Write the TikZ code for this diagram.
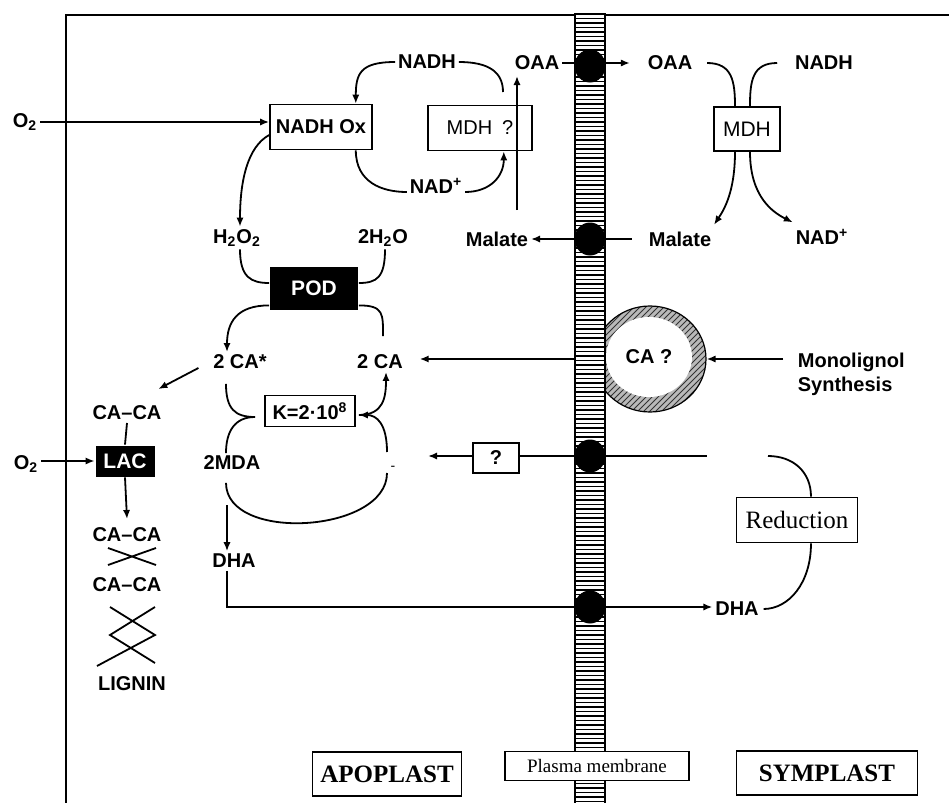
\documentclass[tikz,border=0pt]{standalone}
\usepackage{fontspec}
\setmainfont{Liberation Sans}
\newfontfamily\tnr{Liberation Serif}
\usetikzlibrary{arrows.meta,shapes.geometric,patterns}

\begin{document}
\begin{tikzpicture}[
  x=0.5pt, y=-0.5pt,
  line width=0.9pt,
  every node/.style={font=\fontsize{10}{11}\selectfont\bfseries, inner sep=1pt},
  arr/.style={-{Latex[length=4.5pt,width=3.6pt]}},
  enzbox/.style={draw, fill=white, line width=0.8pt, inner sep=0pt},
  enzblack/.style={fill=black, text=white, inner sep=0pt, font=\fontsize{10.5}{11}\selectfont\bfseries},
  carrier/.style={ellipse, fill=black, minimum width=15.5pt, minimum height=16.5pt, inner sep=0pt},
  areabox/.style={draw, fill=white, line width=0.8pt, inner sep=0pt, font=\tnr\bfseries\fontsize{12.5}{14}\selectfont},
  membranebar/.style={draw, fill=white, line width=0.6pt, minimum width=15pt, minimum height=395pt, inner sep=0pt,
    path picture={
      \foreach \k in {1,...,176}
        \draw[line width=0.9pt] ([yshift=-\k*2.25pt]path picture bounding box.north west) -- ++(20pt,0);
    }}
]
\useasboundingbox (0,0) rectangle (949,803);
\fill[white] (0,0) rectangle (949,803);
\draw (66,803) -- (66,15) -- (949,15);

% vesicle and membrane
\node[ellipse, draw, line width=0.6pt, preaction={fill=gray!55}, pattern=north east lines, pattern color=black!80,
  minimum width=56pt, minimum height=53pt] (vesicle) at (650,359) {};
\node[ellipse, fill=white, minimum width=43pt, minimum height=40pt, inner sep=0pt,
  font=\fontsize{10}{11}\selectfont\bfseries] (castub) at (649,357) {CA ?};
\node[membranebar] (membrane) at (590,409) {};
\node[carrier] (tOAA) at (590,66) {};
\node[carrier] (tMal) at (590,239) {};
\node[carrier] (tQ)   at (590,456) {};
\node[carrier] (tDHA) at (590,607) {};

% apoplast
\node (o2Ox) at (25,122) {O\textsubscript{2}};
\node[enzbox, minimum width=51pt, minimum height=22.5pt] (nadhox) at (321,127) {NADH Ox};
\node (nadh) at (427,62) {NADH};
\node[enzbox, font=\fontsize{10}{11}\selectfont, minimum width=52pt, minimum height=22.5pt] (mdhq) at (480,128) {MDH\enspace ?};
\node (nadp) at (436,186) {NAD\textsuperscript{+}};
\node (oaaA) at (537,63) {OAA};
\node (malA) at (497,239) {Malate};
\node (h2o2) at (237,238) {H\textsubscript{2}O\textsubscript{2}};
\node (h2o) at (383,238) {2H\textsubscript{2}O};
\node[enzblack, minimum width=44pt, minimum height=21.5pt] (pod) at (314,288) {POD};
\node (caStar) at (240,362) {2 CA*};
\node (ca) at (380,362) {2 CA};
\node[enzbox, minimum width=45pt, minimum height=15.5pt] (kbox) at (310,411) {K=2·10\textsuperscript{8}};
\node (mda) at (232,463) {2MDA};
\node[font=\fontsize{7}{8}\selectfont] (dash) at (393,468) {-};
\node (dhaA) at (234,561) {DHA};
\node[enzbox, minimum width=23pt, minimum height=15pt] (qbox) at (496,458) {?};
\node (caca1) at (127,413) {CA--CA};
\node[enzblack, minimum width=29.5pt, minimum height=15.5pt] (lac) at (125,461) {LAC};
\node (o2Lac) at (26,464) {O\textsubscript{2}};
\node (caca2) at (127,535) {CA--CA};
\node (caca3) at (127,585) {CA--CA};
\node (lignin) at (132,684) {LIGNIN};

% symplast
\node (oaaS) at (670,63) {OAA};
\node (nadhS) at (824,63) {NADH};
\node[enzbox, font=\fontsize{10.5}{11}\selectfont, minimum width=33pt, minimum height=22pt] (mdhS) at (747,129) {MDH};
\node (malS) at (680,239) {Malate};
\node (nadpS) at (822,237) {NAD\textsuperscript{+}};
\node[anchor=west, align=left, font=\fontsize{10}{12}\selectfont\bfseries] (mono) at (795,374) {Monolignol\\Synthesis};
\node[draw, fill=white, line width=0.8pt, inner sep=0pt, font=\tnr\fontsize{12.5}{14}\selectfont,
  minimum width=60.5pt, minimum height=22.5pt] (red) at (797,520) {Reduction};
\node (dhaS) at (737,609) {DHA};

% labels
\node[areabox, minimum width=74.5pt, minimum height=22pt] (apo) at (387,774) {APOPLAST};
\node[draw, fill=white, line width=0.8pt, inner sep=0pt, font=\tnr\fontsize{9.5}{11}\selectfont,
  minimum width=92pt, minimum height=14.5pt] (pm) at (597,766) {Plasma membrane};
\node[areabox, minimum width=90.5pt, minimum height=22pt] (sym) at (827,773) {SYMPLAST};

\coordinate (nadhTip) at (503,92);
\coordinate (malUp) at (517,210);
\coordinate (oaaTail) at (517,76);
\coordinate (kjoin) at (255,417);
\coordinate (mdaR) at (387,473);
\coordinate (kin) at (387,452);
\coordinate (mdaDown) at (227,505);
\coordinate (qEnd) at (428,456);
\coordinate (qLine) at (707,456);
\coordinate (redIn) at (768,456);

% NADH oxidase cycle
\draw[arr] (o2Ox.east) -- (o2Ox.east -| nadhox.west);
\draw[arr] (nadh.west) .. controls +(-35,0) and +(0,-30) .. ([xshift=-8.5pt]nadhox.north east);
\draw (nadh.east) .. controls +(30,0) and +(0,-20) .. (nadhTip);
\draw ([xshift=-8.5pt]nadhox.south east) .. controls +(0,32) and +(-25,0) .. ([yshift=-3pt]nadp.west);
\draw[arr] ([yshift=-3pt]nadp.east) .. controls +(25,0) and +(0,25) .. ([xshift=-14.5pt]mdhq.south east);
\draw[arr] (malUp) -- (oaaTail);
\draw[arr] ([yshift=-4pt]nadhox.west) .. controls +(-22,12) and +(0,-45) .. ([xshift=1.5pt]h2o2.north);

% peroxidase
\draw ([xshift=1.5pt]h2o2.south) .. controls +(0,28) and +(-18,0) .. ([yshift=2.5pt]pod.west);
\draw ([xshift=1pt]h2o.south) .. controls +(0,28) and +(18,0) .. ([yshift=2.5pt]pod.east);
\draw[arr] ([yshift=2.5pt]pod.south west) .. controls +(-32,0) and +(0,-30) .. ([xshift=-6.5pt]caStar.north);
\draw ([yshift=2.5pt]pod.south east) .. controls +(25,0) and +(0,-22) .. ([xshift=1.5pt,yshift=8pt]ca.north);
\draw ([xshift=-7pt,yshift=-6pt]caStar.south) .. controls +(0,25) and +(-20,0) .. (kjoin);
\draw (kjoin) .. controls +(-20,0) and +(0,-22) .. ([xshift=-3pt]mda.north);
\draw ([xshift=-3pt,yshift=-5pt]mda.south) .. controls +(0,60) and +(0,60) .. (mdaR);
\draw[arr] (kin) .. controls +(0,-28) and +(18,0) .. ([xshift=1.5pt,yshift=-2pt]kbox.east);
\draw[arr] ([xshift=1.5pt,yshift=-2pt]kbox.east) .. controls +(25,0) and +(0,25) .. ([xshift=3pt]ca.south);
\draw[arr] (membrane.west |- vesicle.west) -- ([xshift=7pt]ca.east |- vesicle.west);

% lignification
\draw[arr] ([xshift=-6pt,yshift=-3pt]caStar.west) -- ([xshift=-3pt,yshift=7pt]caca1.north east);
\draw (caca1.south) -- (lac.north);
\draw[arr] (lac.south) -- ([yshift=3pt]caca2.north);
\draw[arr] (o2Lac.east |- lac.west) -- (lac.west);
\draw (108,548) -- (156,565) (108,565) -- (156,548);
\draw (110,607) -- (155,635) -- (97,666) (155,607) -- (110,635) -- (155,663);

% ascorbate
\draw[arr] (mdaDown) -- ([xshift=-3.5pt]dhaA.north);
\draw ([xshift=-3.5pt]dhaA.south) |- (tDHA.west);
\draw[arr] (tDHA.east) -- (tDHA.east -| dhaS.west);
\draw (tQ.west) -- (tQ.west -| qbox.east);
\draw[arr] (qbox.west |- tQ.west) -- (qEnd);
\draw (tQ.east) -- (qLine);
\draw (redIn) .. controls +(25,0) and +(0,-25) .. ([xshift=7pt]red.north);
\draw ([xshift=7pt]red.south) .. controls +(0,40) and +(25,0) .. ([xshift=1pt]dhaS.east);

% malate shuttle
\draw (oaaA.east) -- (oaaA.east -| tOAA.west);
\draw[arr] (tOAA.east |- oaaS.west) -- ([xshift=-7.5pt]oaaS.west);
\draw ([xshift=-7pt]malS.west) -- (tMal.east);
\draw[arr] (tMal.west) -- (malA.east);
\draw ([xshift=6pt]oaaS.east) .. controls +(25,0) and +(0,-25) .. ([xshift=-6pt]mdhS.north);
\draw ([xshift=-7.5pt]nadhS.west) .. controls +(-25,0) and +(0,-25) .. ([xshift=1.5pt]mdhS.north);
\draw[arr] ([xshift=-6pt]mdhS.south) .. controls +(0,40) and +(10,-15) .. ([yshift=2pt]malS.north east);
\draw[arr] ([xshift=1.5pt]mdhS.south) .. controls +(0,45) and +(-20,-10) .. ([yshift=2pt]nadpS.north west);

% monolignols
\draw[arr] ([xshift=-6pt]mono.west |- vesicle.east) -- (vesicle.east);
\end{tikzpicture}
\end{document}
